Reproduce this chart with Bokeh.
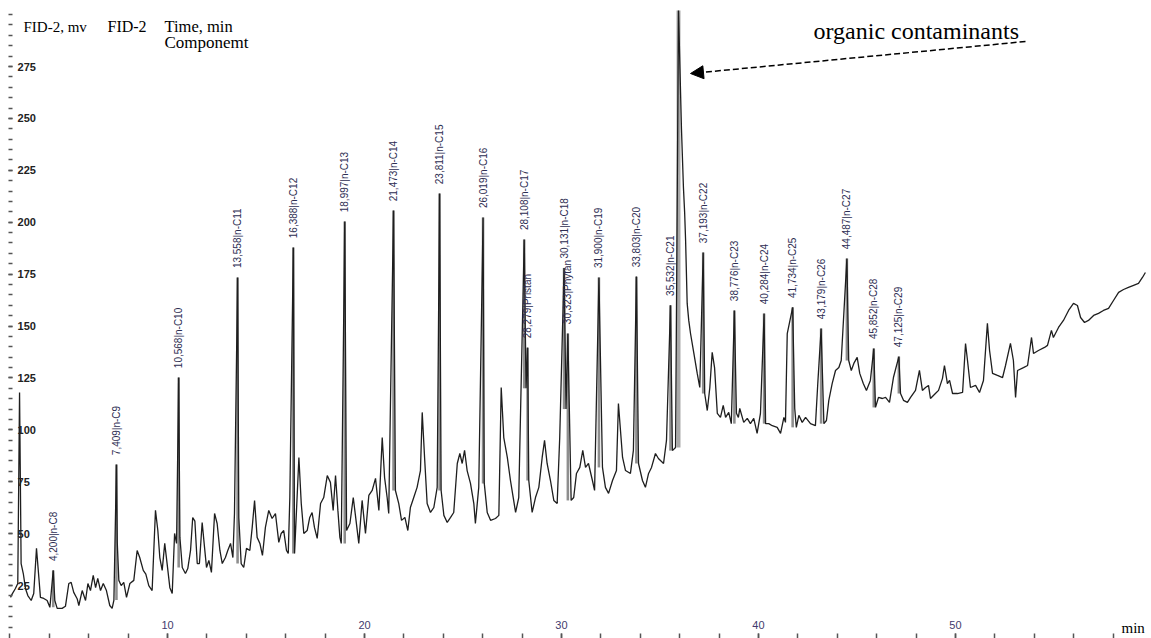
import numpy as np
from bokeh.plotting import figure
from bokeh.models import Range1d, LinearAxis, FixedTicker, Label, Arrow, NormalHead
from bokeh.core.properties import value
from bokeh.embed import file_html
from bokeh.resources import INLINE

# ---- baseline trace (time, min / signal, mV) ----
base_time = [2.03, 2.12, 2.28, 2.40, 2.49, 2.57, 2.68, 2.79, 2.91, 3.08, 3.21, 3.35, 3.47, 3.55, 3.72, 3.89, 4.03,
             4.28, 4.40, 4.65, 4.82, 4.99, 5.11, 5.24, 5.42, 5.50, 5.67, 5.84, 5.96, 6.09, 6.23, 6.35, 6.46, 6.60,
             6.74, 6.90, 7.07, 7.19, 7.28, 7.45, 7.53, 7.65, 7.78, 7.92, 8.09, 8.29, 8.46, 8.59, 8.77, 8.90, 9.05,
             9.22, 9.39, 9.51, 9.61, 9.73, 9.86, 9.98, 10.12, 10.24, 10.36, 10.46, 10.63, 10.75, 10.91, 11.03,
             11.17, 11.28, 11.39, 11.51, 11.62, 11.76, 11.88, 11.98, 12.10, 12.23, 12.39, 12.52, 12.66, 12.78,
             12.94, 13.06, 13.20, 13.32, 13.40, 13.62, 13.74, 13.87, 14.01, 14.18, 14.30, 14.42, 14.55, 14.69,
             14.82, 14.97, 15.14, 15.31, 15.48, 15.65, 15.77, 15.90, 16.04, 16.13, 16.21, 16.45, 16.67, 16.79,
             16.92, 17.09, 17.22, 17.34, 17.46, 17.60, 17.77, 17.93, 18.11, 18.27, 18.41, 18.53, 18.65, 18.75,
             18.82, 19.09, 19.26, 19.43, 19.54, 19.71, 19.88, 20.05, 20.22, 20.39, 20.56, 20.73, 20.90, 21.02,
             21.15, 21.23, 21.57, 21.74, 21.88, 22.05, 22.20, 22.33, 22.50, 22.67, 22.84, 22.93, 23.05, 23.18,
             23.35, 23.52, 23.69, 23.89, 24.03, 24.20, 24.37, 24.53, 24.71, 24.84, 24.96, 25.08, 25.21, 25.38,
             25.55, 25.63, 25.80, 26.08, 26.23, 26.40, 26.65, 26.82, 26.94, 27.07, 27.25, 27.41, 27.55, 27.67,
             27.83, 28.20, 28.34, 28.51, 28.68, 28.85, 29.02, 29.14, 29.27, 29.44, 29.61, 29.78, 29.91, 30.23,
             30.49, 30.62, 30.76, 30.93, 31.08, 31.22, 31.37, 31.57, 31.68, 32.08, 32.23, 32.39, 32.59, 32.79,
             32.89, 33.10, 33.25, 33.50, 33.65, 33.91, 34.11, 34.26, 34.42, 34.57, 34.77, 34.92, 35.18, 35.33,
             35.63, 35.79, 36.09, 36.19, 36.25, 36.30, 36.38, 36.46, 36.55, 36.72, 36.89, 37.02, 37.27, 37.40,
             37.53, 37.65, 37.77, 37.91, 38.07, 38.21, 38.33, 38.49, 38.62, 38.88, 38.98, 39.05, 39.25, 39.43,
             39.59, 39.76, 39.93, 40.10, 40.36, 40.52, 40.70, 40.95, 41.12, 41.29, 41.37, 41.46, 41.84, 41.92,
             42.05, 42.22, 42.39, 42.64, 42.89, 43.01, 43.32, 43.45, 43.57, 43.74, 43.91, 44.08, 44.20, 44.58,
             44.71, 44.84, 45.01, 45.14, 45.32, 45.48, 45.68, 45.94, 46.09, 46.29, 46.45, 46.65, 46.85, 47.21,
             47.36, 47.56, 47.72, 47.97, 48.17, 48.32, 48.48, 48.63, 48.73, 48.98, 49.14, 49.34, 49.44, 49.59,
             49.70, 49.85, 50.10, 50.36, 50.51, 50.61, 50.76, 51.02, 51.22, 51.42, 51.62, 51.73, 51.88, 52.13,
             52.39, 52.54, 52.79, 52.94, 53.05, 53.15, 53.45, 53.66, 53.86, 53.96, 54.21, 54.52, 54.67, 54.87,
             54.97, 55.23, 55.48, 55.74, 55.99, 56.19, 56.35, 56.55, 56.75, 57.01, 57.26, 57.51, 57.77, 58.02,
             58.28, 58.53, 58.78, 59.04, 59.29, 59.49, 59.64]
base_mv = [19.3, 21.0, 23.6, 26.0, 118.0, 35.6, 30.8, 23.6, 20.2, 17.8, 21.2, 42.9, 28.9, 19.3, 18.8, 17.8, 14.5,
           17.8, 14.0, 14.0, 15.0, 26.0, 26.5, 21.7, 18.5, 15.4, 22.6, 17.8, 26.0, 22.6, 29.9, 24.0, 28.5, 22.6,
           26.0, 22.6, 15.4, 14.0, 18.0, 45.8, 27.5, 25.0, 26.5, 19.3, 26.0, 27.5, 41.9, 38.5, 32.3, 30.5, 25.0,
           22.6, 61.2, 51.5, 38.5, 32.3, 45.3, 35.6, 24.0, 21.2, 50.1, 45.3, 48.2, 33.7, 30.8, 33.2,
           41.9, 57.8, 56.0, 35.6, 35.6, 55.4, 43.4, 33.7, 37.1, 31.3, 59.7, 54.9, 41.9, 35.6,
           38.5, 41.9, 45.3, 38.5, 59.7, 57.8, 35.6, 33.7, 42.9, 41.9, 53.0, 66.0, 48.2, 45.3,
           39.5, 53.0, 61.2, 57.3, 59.7, 45.8, 50.1, 51.5, 41.9, 40.5, 67.4, 40.5, 86.7, 64.5,
           50.1, 51.5, 57.8, 60.2, 53.0, 47.7, 64.5, 67.4, 78.0, 74.7, 61.2, 78.0, 61.2, 48.2,
           45.3, 51.5, 54.9, 67.4, 58.8, 45.3, 66.0, 50.1, 68.4, 70.8, 76.6, 61.2, 96.3, 77.0,
           67.4, 59.7, 70.8, 64.5, 56.4, 57.8, 51.5, 62.6, 67.4, 72.3, 80.4, 108.4, 86.7, 64.5,
           60.2, 62.6, 72.3, 70.8, 58.8, 55.4, 57.8, 60.2, 83.8, 88.6, 83.8, 90.1, 80.4, 74.2,
           64.5, 54.9, 72.3, 74.2, 60.2, 56.4, 57.3, 58.8, 120.4, 96.3, 86.7, 75.6, 67.4, 60.2,
           67.4, 120.0, 75.6, 60.2, 67.4, 72.3, 86.7, 94.9, 83.8, 75.6, 66.0, 64.5, 96.3, 110.0,
           66.0, 67.4, 79.0, 81.9, 90.1, 81.9, 83.8, 75.6, 70.8, 81.9, 72.3, 69.4, 75.6, 80.4,
           112.7, 86.7, 80.4, 79.0, 90.1, 83.8, 75.6, 72.3, 79.0, 81.9, 88.6, 86.2, 83.8, 94.9,
           90.0, 91.5, 245.0, 216.8, 205.0, 191.2, 160.9, 152.7, 146.4, 136.8, 127.2, 120.4, 117.5, 109.3,
           120.4, 137.3, 130.0, 107.9, 106.0, 111.8, 106.0, 108.4, 103.0, 108.0, 106.0, 110.3, 103.6, 105.5,
           103.0, 105.5, 98.3, 107.9, 103.0, 103.0, 102.0, 101.2, 98.3, 106.0, 103.6, 146.4, 110.3, 101.2,
           107.0, 103.6, 106.0, 103.0, 102.0, 122.3, 103.0, 104.5, 114.2, 122.3, 128.6, 130.0, 133.4, 133.4,
           128.6, 132.0, 134.9, 127.2, 122.3, 119.0, 123.8, 110.8, 115.6, 115.1, 115.6, 113.2, 125.2, 117.5,
           114.2, 113.2, 115.6, 119.0, 128.6, 119.0, 120.4, 121.4, 115.1, 117.5, 119.0, 124.8, 131.0, 122.3,
           123.8, 117.5, 117.5, 118.0, 141.6, 133.4, 120.4, 121.4, 118.0, 123.8, 151.3, 138.2, 127.2, 126.2,
           125.2, 131.0, 141.6, 133.4, 115.6, 128.6, 130.0, 131.0, 144.5, 136.8, 138.2, 139.7, 140.7, 147.9,
           144.5, 149.3, 152.7, 157.5, 160.9, 159.9, 154.1, 151.7, 152.7, 155.1, 156.1, 157.5, 158.5, 162.3,
           166.2, 167.6, 168.6, 169.6, 170.5, 173.4, 175.8]

# ---- identified peaks ----
peak_time = [4.200, 7.409, 10.568, 13.558, 16.388, 18.997, 21.473, 23.811, 26.019, 28.108, 28.279, 30.131,
             30.323, 31.900, 33.803, 35.532, 37.193, 38.776, 40.284, 41.734, 43.179, 44.487, 45.852, 47.125]
peak_mv = [32.3, 83.3, 125.2, 173.4, 187.8, 200.3, 205.6, 213.8, 202.3, 191.7, 139.6, 178.0,
           146.4, 173.4, 173.8, 160.0, 185.4, 157.5, 156.0, 159.0, 148.8, 182.5, 139.2, 135.3]
peak_label = ["4,200|n-C8", "7,409|n-C9", "10,568|n-C10", "13,558|n-C11", "16,388|n-C12", "18,997|n-C13",
              "21,473|n-C14", "23,811|n-C15", "26,019|n-C16", "28,108|n-C17", "28,279|Pristan", "30,131|n-C18",
              "30,323|Phytan", "31,900|n-C19", "33,803|n-C20", "35,532|n-C21", "37,193|n-C22", "38,776|n-C23",
              "40,284|n-C24", "41,734|n-C25", "43,179|n-C26", "44,487|n-C27", "45,852|n-C28", "47,125|n-C29"]

# ---- large unidentified peak (organic contaminants), clipped at the top ----
contaminant_time = [35.94]
contaminant_mv = [302.0]

# ---- axis ticks ----
x_major = [10, 20, 30, 40, 50]
x_minor = list(range(2, 60, 2))
y_major = [25, 50, 75, 100, 125, 150, 175, 200, 225, 250, 275]
y_minor = list(range(5, 305, 5))

# assemble the full trace
t_all = np.array(base_time + peak_time + contaminant_time)
v_all = np.array(base_mv + peak_mv + contaminant_mv)
order = np.argsort(t_all)
t_all, v_all = t_all[order], v_all[order]

peak_bottom = [float(v_all[np.abs(t_all - tc) <= 0.2].min()) for tc in peak_time]
cont_bottom = [float(v_all[np.abs(t_all - tc) <= 0.2].min()) for tc in contaminant_time]

p = figure(width=1151, height=638, x_range=Range1d(1.523, 59.95), y_range=Range1d(-0.5, 306.8),
           output_backend="svg", toolbar_location=None, x_axis_location=None, y_axis_location=None,
           min_border=0)
p.outline_line_color = None
p.grid.grid_line_color = None
p.background_fill_color = "white"

# grey peak columns
p.vbar(x=peak_time, top=peak_mv, bottom=peak_bottom, width=0.13, fill_color="#8e8e8e", line_color=None)
p.vbar(x=contaminant_time, top=contaminant_mv, bottom=cont_bottom, width=0.2, fill_color="#a8a8a8",
       line_color=None)
# trace
p.line(t_all, v_all, line_color="#1e1e1e", line_width=1.3)

# peak labels
p.text(x=peak_time, y=[v + 4.5 for v in peak_mv], text=peak_label, angle=np.pi / 2,
       text_align="left", text_baseline="middle", text_font=value("Liberation Sans"),
       text_font_size="10px", text_color="#2d2d52")

# y axis (ticks inside at left edge, labels to the right)
yax = LinearAxis(fixed_location=1.93, ticker=FixedTicker(ticks=y_major, minor_ticks=y_minor),
                 axis_line_color=None, major_tick_out=4, major_tick_in=0, minor_tick_out=4, minor_tick_in=0,
                 major_tick_line_color="#555555", minor_tick_line_color="#555555",
                 major_tick_line_width=1.5, minor_tick_line_width=1.5,
                 major_label_standoff=5, major_label_text_font="Liberation Sans",
                 major_label_text_font_style="bold", major_label_text_font_size="11px",
                 major_label_text_color="#222222")
p.add_layout(yax, "right")

# x axis (ticks at bottom edge, labels above them)
xax = LinearAxis(fixed_location=-0.5, ticker=FixedTicker(ticks=x_major, minor_ticks=x_minor),
                 axis_line_color=None, major_tick_out=5, major_tick_in=0, minor_tick_out=5, minor_tick_in=0,
                 major_tick_line_color="#555555", minor_tick_line_color="#555555",
                 major_tick_line_width=1.5, minor_tick_line_width=1.5,
                 major_label_standoff=5, major_label_text_font="Liberation Sans",
                 major_label_text_font_size="11px", major_label_text_color="#3f3a6e")
p.add_layout(xax, "above")

serif = "Liberation Serif"
for txt, x, y, fs in [("FID-2, mv", 23, 612, "15px"), ("FID-2", 107, 612, "16px"),
                      ("Time, min", 164, 612, "16.5px"), ("Componemt", 164, 596, "17px"),
                      ("min", 1121, 11, "15px"), ("organic contaminants", 813, 608, "24px")]:
    p.add_layout(Label(x=x, y=y, x_units="screen", y_units="screen", text=txt, text_font=serif,
                       text_font_size=fs, text_color="black", text_baseline="alphabetic"))

p.add_layout(Arrow(end=NormalHead(size=13, fill_color="black", line_color="black"),
                   x_start=1025, y_start=597, x_end=690, y_end=565, start_units="screen", end_units="screen",
                   line_color="black", line_width=1.5, line_dash="6 3"))

open("out.html", "w").write(file_html(p, INLINE))
